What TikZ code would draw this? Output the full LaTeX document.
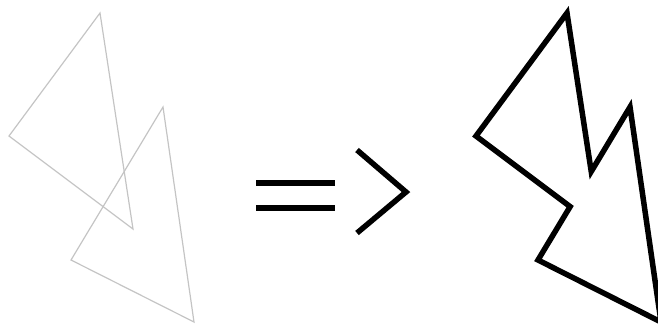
\documentclass[tikz,border=0pt]{standalone}
\usepackage{xcolor}
\usepackage{tikz}
\definecolor{UNGrey}{HTML}{C4C4C4}
\definecolor{UNInk}{HTML}{000000}

\begin{document}
\begin{tikzpicture}[x=1pt,y=-1pt]
    \useasboundingbox (0,0) rectangle (658,325);
    % the two triangles, before
    \coordinate (aTop) at (100,13);
    \coordinate (aLeft) at (9,136);
    \coordinate (aBot) at (133,229);
    \coordinate (bTop) at (163,107);
    \coordinate (bLeft) at (71,260);
    \coordinate (bBot) at (194,322);
    \draw[UNGrey,line width=1.2pt] (aTop) -- (aLeft) -- (aBot) -- cycle;
    \draw[UNGrey,line width=1.2pt] (bTop) -- (bLeft) -- (bBot) -- cycle;
    % the sign
    \foreach \y in {183,208} {
      \draw[UNInk,line width=5.5pt] (256,\y) -- (335,\y);
    }
    \draw[UNInk,line width=5.5pt,line join=miter] (357,150) -- (406,192) -- (357,233);
    % their union, after
    \begin{scope}[xshift=467pt]
      \coordinate (uaTop) at (100,13);
      \coordinate (uaLeft) at (9,136);
      \coordinate (uaBot) at (133,229);
      \coordinate (ubTop) at (163,107);
      \coordinate (ubLeft) at (71,260);
      \coordinate (ubBot) at (194,322);
      \draw[UNInk,line width=5.5pt,line join=miter] (uaTop) -- (uaLeft)
        -- (intersection of uaLeft--uaBot and ubTop--ubLeft) -- (ubLeft)
        -- (ubBot) -- (ubTop)
        -- (intersection of uaTop--uaBot and ubTop--ubLeft) -- cycle;
    \end{scope}
  \end{tikzpicture}
\end{document}
